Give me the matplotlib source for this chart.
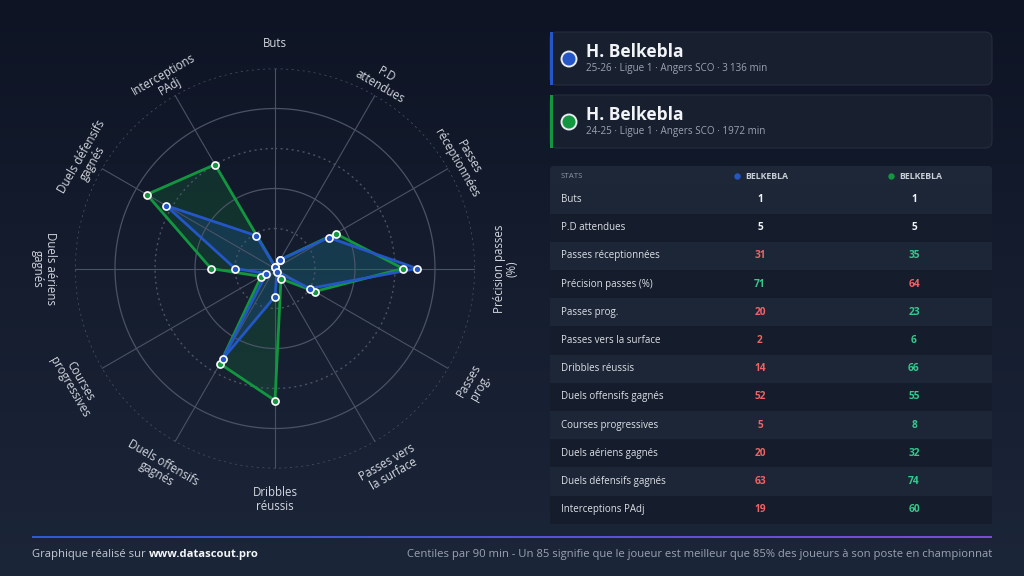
import numpy as np
import matplotlib.pyplot as plt
from matplotlib.patches import FancyBboxPatch, Rectangle, Circle

plt.rcParams['font.family'] = ['Open Sans', 'DejaVu Sans']

W, H = 1024, 576

# Data
metrics = ["Buts", "P.D attendues", "Passes réceptionnées", "Précision passes (%)",
           "Passes prog.", "Passes vers la surface", "Dribbles réussis",
           "Duels offensifs gagnés", "Courses progressives", "Duels aériens gagnés",
           "Duels défensifs gagnés", "Interceptions PAdj"]
radar_labels = ["Buts", "P.D\nattendues", "Passes\nréceptionnées", "Précision passes\n(%)",
                "Passes\nprog.", "Passes vers\nla surface", "Dribbles\nréussis",
                "Duels offensifs\ngagnés", "Courses\nprogressives", "Duels aériens\ngagnés",
                "Duels défensifs\ngagnés", "Interceptions\nPAdj"]
season_2526 = [1, 5, 31, 71, 20, 2, 14, 52, 5, 20, 63, 19]
season_2425 = [1, 5, 35, 64, 23, 6, 66, 55, 8, 32, 74, 60]
player = "H. Belkebla"
short_name = "BELKEBLA"
info_2526 = "25-26 · Ligue 1 · Angers SCO · 3\u202f136 min"
info_2425 = "24-25 · Ligue 1 · Angers SCO · 1972 min"

BLUE = '#2456c6'
GREEN = '#12963f'
GRID = '#4a5366'
TXT = '#d3d7df'
UP = '#36c98d'
DOWN = '#ee6464'

fig = plt.figure(figsize=(10.24, 5.76), dpi=100)

# background gradient
bg = fig.add_axes([0, 0, 1, 1], zorder=0)
top = np.array([0x0e, 0x14, 0x24]) / 255
bot = np.array([0x1c, 0x26, 0x39]) / 255
g = np.linspace(0, 1, 256)[:, None, None]
grad = top + (bot - top) * g
bg.imshow(np.repeat(grad, 2, axis=1), extent=[0, W, H, 0], aspect='auto')
bg.set_xlim(0, W)
bg.set_ylim(H, 0)
bg.axis('off')

# radar
cx, cy, R = 275, 268.5, 200
ax = fig.add_axes([(cx - R) / W, (H - cy - R) / H, 2 * R / W, 2 * R / H],
                  projection='polar', zorder=1)
ax.set_facecolor('none')
ax.set_theta_zero_location('N')
ax.set_theta_direction(-1)
ax.set_ylim(0, 100)
ax.grid(False)
ax.set_xticks([])
ax.set_yticks([])
ax.spines['polar'].set_visible(False)

n = len(metrics)
angles = np.arange(n) * 2 * np.pi / n
full = np.linspace(0, 2 * np.pi, 361)
for lev in [20, 40, 60, 80, 100]:
    if lev % 40 == 0:
        ax.plot(full, np.full_like(full, lev), color=GRID, lw=0.9)
    else:
        ax.plot(full, np.full_like(full, lev), color=GRID, lw=1.0, dashes=(1.5, 2.5))
for a in angles:
    ax.plot([a, a], [0, 100], color=GRID, lw=0.8)

for vals, col in [(season_2425, GREEN), (season_2526, BLUE)]:
    th = np.append(angles, angles[0])
    rv = np.append(vals, vals[0])
    ax.fill(th, rv, color=col, alpha=0.2, lw=0)
    ax.plot(th, rv, color=col, lw=2, zorder=3)
for vals, col in [(season_2425, GREEN), (season_2526, BLUE)]:
    ax.scatter(angles, vals, s=26, c=col, edgecolors='white', linewidths=1.2, zorder=5)

for a, lab in zip(angles, radar_labels):
    deg = np.degrees(a)
    if 90 <= deg <= 270:
        rot = 180 - deg
    else:
        rot = -deg if deg <= 90 else 360 - deg
    if '\n' not in lab:
        rr = 112.5
    elif deg < 90 or deg > 270:
        rr = 108.5
    else:
        rr = 115.5
    ax.text(a, rr, lab, rotation=rot, rotation_mode='anchor', ha='center', va='center',
            fontsize=8.3, color=TXT, linespacing=1.0)

# right panel overlay
ov = fig.add_axes([0, 0, 1, 1], zorder=2)
ov.set_xlim(0, W)
ov.set_ylim(H, 0)
ov.axis('off')
ov.set_facecolor('none')

cards = [(32, BLUE, info_2526), (95, GREEN, info_2425)]
for y0, col, info in cards:
    ov.add_patch(FancyBboxPatch((550, y0), 442, 53, boxstyle="round,pad=0,rounding_size=7",
                                fc='#182030', ec='#252e3e', lw=0.8))
    ov.add_patch(Rectangle((550, y0), 3, 53, fc=col, ec='none'))
    ov.add_patch(Circle((569, y0 + 27), 7.5, fc=col, ec='#e8ebf0', lw=1.4))
    ov.text(586, y0 + 20, player, fontsize=12.5, fontweight='bold', color='#f2f4f7',
            ha='left', va='center')
    ov.text(586, y0 + 36.5, info, fontsize=7.1, color='#9aa3b2', ha='left', va='center')

# table
ov.add_patch(FancyBboxPatch((550, 166), 442, 20.5, boxstyle="round,pad=0,rounding_size=4",
                            fc='#1e2737', ec='none'))
ov.text(561, 176.5, "STATS", fontsize=5.7, color='#8c95a6', ha='left', va='center')
for xc, col in [(760, BLUE), (914, GREEN)]:
    ov.add_patch(Circle((xc - 22.5, 176.5), 3.2, fc=col, ec='none'))
    ov.text(xc - 15, 176.5, short_name, fontsize=6.3, fontweight='bold', color='#c9ced8',
            ha='left', va='center')

row_h = 28.2
for i, m in enumerate(metrics):
    yc = 199.5 + i * row_h
    fc = '#1d2636' if i % 2 == 0 else '#151c2b'
    ov.add_patch(Rectangle((550, yc - row_h / 2), 442, row_h, fc=fc, ec='none'))
    ov.text(561, yc, m, fontsize=7.0, color='#dde1e8', ha='left', va='center')
    a, b = season_2526[i], season_2425[i]
    ca = '#f2f4f7' if a == b else (UP if a > b else DOWN)
    cb = '#f2f4f7' if a == b else (UP if b > a else DOWN)
    ov.text(760, yc, str(a), fontsize=7.3, fontweight='bold', color=ca, ha='center', va='center')
    ov.text(914, yc, str(b), fontsize=7.3, fontweight='bold', color=cb, ha='center', va='center')

# footer
line = np.linspace(0, 1, 256)[None, :, None]
c1 = np.array([0x2a, 0x5c, 0xd6]) / 255
c2 = np.array([0x7a, 0x4c, 0xd4]) / 255
ov.imshow(np.repeat(c1 + (c2 - c1) * line, 2, axis=0), extent=[32, 992, 538.2, 536.2],
          aspect='auto', zorder=3)
ov.set_xlim(0, W)
ov.set_ylim(H, 0)

t1 = ov.text(32, 555, "Graphique réalisé sur ", fontsize=8.1, color='#c3c9d3',
             ha='left', va='center')
fig.canvas.draw()
bb = t1.get_window_extent(renderer=fig.canvas.get_renderer())
ov.text(32 + bb.width, 555, "www.datascout.pro", fontsize=8.1, fontweight='bold',
        color='#f5f6f8', ha='left', va='center')
ov.text(992, 555, "Centiles par 90 min - Un 85 signifie que le joueur est meilleur que 85% "
        "des joueurs à son poste en championnat", fontsize=8.1, color='#9ba3b1',
        ha='right', va='center')

fig.savefig('out.png', dpi=100)
